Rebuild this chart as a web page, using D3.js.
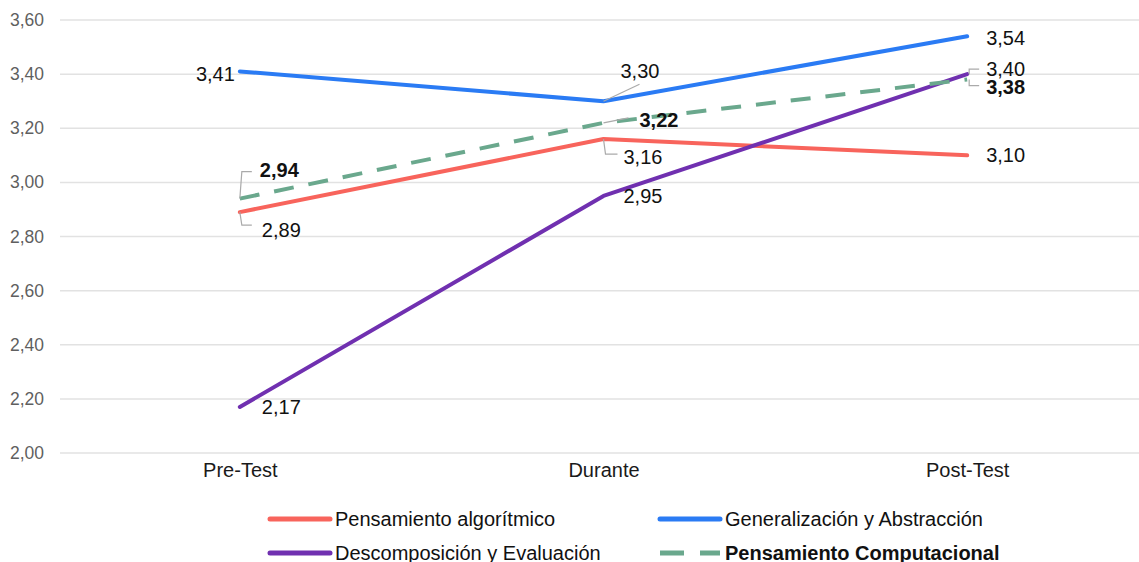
<!DOCTYPE html>
<html>
<head>
<meta charset="utf-8">
<script src="https://cdn.jsdelivr.net/npm/d3@7"></script>
<style>
  html, body { margin: 0; padding: 0; background: #fff; }
  svg { display: block; font-family: "Liberation Sans", Arial, sans-serif; }
</style>
</head>
<body>
<svg id="chart" width="1139" height="562"></svg>
<script>
// Stages of the study
const categories = ["Pre-Test", "Durante", "Post-Test"];
// Dimension means per stage
const algoritmico = [2.89, 3.16, 3.10];
const generalizacion = [3.41, 3.30, 3.54];
const descomposicion = [2.17, 2.95, 3.40];
const computacional = [2.94, 3.22, 3.38];
// Axis ticks
const yTicks = [2.0, 2.2, 2.4, 2.6, 2.8, 3.0, 3.2, 3.4, 3.6];

const seriesNames = ["Pensamiento algorítmico", "Generalización y Abstracción",
                     "Descomposición y Evaluación", "Pensamiento Computacional"];

const series = [
  { name: seriesNames[0], values: algoritmico, color: "#f8645c", dash: null, bold: false },
  { name: seriesNames[1], values: generalizacion, color: "#2a7bf4", dash: null, bold: false },
  { name: seriesNames[2], values: descomposicion, color: "#7030b0", dash: null, bold: false },
  { name: seriesNames[3], values: computacional, color: "#6aa88d", dash: "20,15", bold: true }
];

const svg = d3.select("#chart");
const fmt = v => d3.format(".2f")(v).replace(".", ",");
const FONT = "'Liberation Sans', Arial, sans-serif";

const x = d3.scalePoint().domain(categories).range([58, 1149]).padding(0.5);
const y = d3.scaleLinear().domain([2.0, 3.6]).range([453, 20]);

// Gridlines
svg.append("g").selectAll("line").data(yTicks).join("line")
  .attr("x1", 60).attr("x2", 1139)
  .attr("y1", d => y(d)).attr("y2", d => y(d))
  .attr("stroke", "#e2e2e2").attr("stroke-width", 1.5);

// Y axis labels
const yAxis = d3.axisLeft(y).tickValues(yTicks).tickFormat(fmt).tickSize(0).tickPadding(0);
const gy = svg.append("g").attr("transform", "translate(44,0)").call(yAxis);
gy.select(".domain").remove();
gy.selectAll("text").attr("fill", "#5f5f5f").style("font-size", "17.5px")
  .style("font-family", FONT);

// X axis labels
const xAxis = d3.axisBottom(x).tickSize(0).tickPadding(0);
const gx = svg.append("g").attr("transform", "translate(0,463)").call(xAxis);
gx.select(".domain").remove();
gx.selectAll("text").attr("fill", "#1a1a1a").style("font-size", "20px")
  .style("font-family", FONT);

// Lines
const line = d3.line().x((d, i) => x(categories[i])).y(d => y(d));
svg.append("g").selectAll("path").data(series).join("path")
  .attr("d", s => line(s.values))
  .attr("fill", "none")
  .attr("stroke", s => s.color)
  .attr("stroke-width", 4)
  .attr("stroke-dasharray", s => s.dash)
  .attr("stroke-linecap", s => s.dash ? "butt" : "round")
  .attr("stroke-linejoin", "round");

// Data labels: [series index, stage index, dx, dy, anchor, leader points (offsets from the point) or null]
const labelSpecs = [
  [1, 0, -5, 10, "end", null],
  [3, 0, 20, -22, "start", [[0, 0], [2, -27], [12, -27]]],
  [0, 0, 22, 25, "start", [[0, 0], [2, 13], [12, 13]]],
  [2, 0, 22, 7, "start", null],
  [1, 1, 17, -23, "start", [[0, 0], [36, -17]]],
  [3, 1, 36, 4, "start", [[0, 0], [25, -5]]],
  [0, 1, 20, 25, "start", [[0, 0], [2, 15], [14, 15]]],
  [2, 1, 20, 7, "start", null],
  [1, 2, 19, 9, "start", null],
  [2, 2, 19, 2, "start", [[12, -5], [2, -5], [2, 0]]],
  [3, 2, 19, 14.5, "start", [[2, 0], [2, 6], [12, 6]]],
  [0, 2, 19, 7, "start", null]
];

const labels = svg.append("g");
labelSpecs.forEach(([si, ci, dx, dy, anchor, leader]) => {
  const s = series[si];
  const px = x(categories[ci]);
  const py = y(s.values[ci]);
  if (leader) {
    labels.append("path")
      .attr("d", d3.line()(leader.map(p => [px + p[0], py + p[1]])))
      .attr("fill", "none").attr("stroke", "#aaa").attr("stroke-width", 1.2);
  }
  labels.append("text")
    .attr("x", px + dx).attr("y", py + dy)
    .attr("text-anchor", anchor)
    .attr("fill", "#111")
    .style("font-size", "20px")
    .style("font-weight", s.bold ? "bold" : "normal")
    .text(fmt(s.values[ci]));
});

// Legend
const legendPos = [[270, 519], [660, 519], [270, 553], [660, 553]];
const legend = svg.append("g");
series.forEach((s, i) => {
  const [lx, ly] = legendPos[i];
  legend.append("line")
    .attr("x1", lx).attr("x2", lx + 60).attr("y1", ly).attr("y2", ly)
    .attr("stroke", s.color).attr("stroke-width", 5)
    .attr("stroke-linecap", s.dash ? "butt" : "round")
    .attr("stroke-dasharray", s.dash ? "24,16" : null);
  legend.append("text")
    .attr("x", lx + 65).attr("y", ly + 7)
    .attr("fill", "#111")
    .style("font-size", "20px")
    .style("font-weight", s.bold ? "bold" : "normal")
    .text(s.name);
});
</script>
</body>
</html>
